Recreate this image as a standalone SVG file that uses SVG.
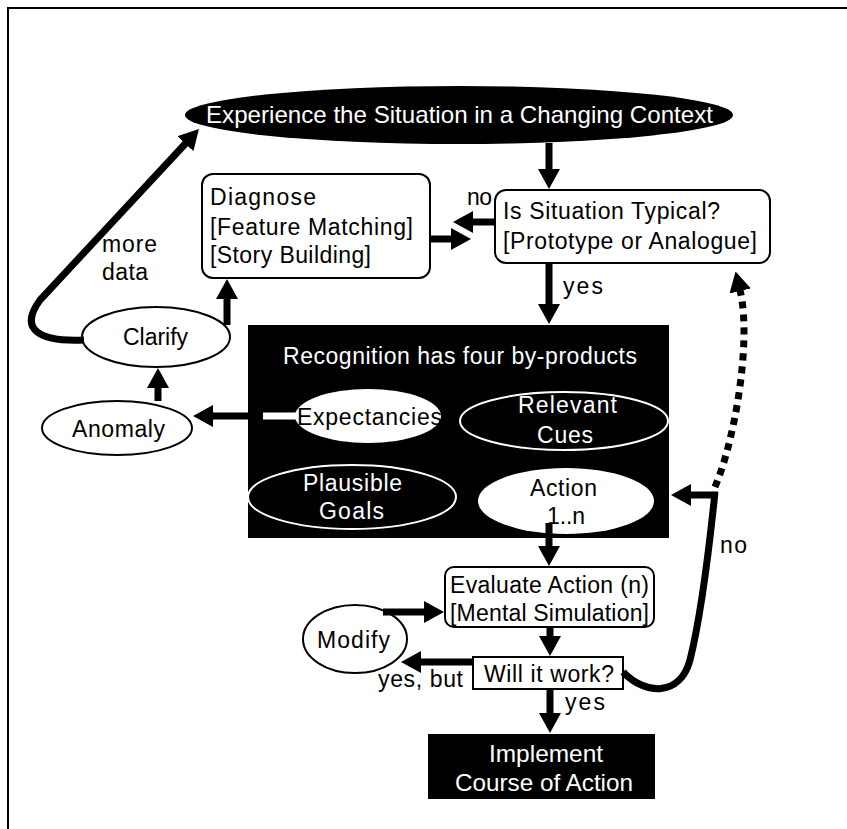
<svg xmlns="http://www.w3.org/2000/svg" width="847" height="829" viewBox="0 0 847 829">
<style>
text{font-family:"Liberation Sans",Arial,sans-serif;font-size:23px;fill:#000}
.w{fill:#fff}
.big{font-size:24px}
.box{fill:#fff;stroke:#000;stroke-width:2}
.blk{fill:#000}
.eo{fill:#fff;stroke:#000;stroke-width:2}
.ei{fill:#000;stroke:#fff;stroke-width:2}
.ef{fill:#fff;stroke:none}
.c{fill:none;stroke:#000;stroke-width:7;marker-end:url(#ah)}
.cn{fill:none;stroke:#000;stroke-width:7}
.dot{fill:none;stroke:#000;stroke-width:7;stroke-dasharray:7 6;marker-end:url(#ah)}
</style>
<defs>
<marker id="ah" viewBox="0 0 20 22" refX="1" refY="11" markerWidth="20" markerHeight="22" markerUnits="userSpaceOnUse" orient="auto"><path d="M0,0 L20,11 L0,22 z" fill="#000"/></marker>
</defs>
<rect width="847" height="829" fill="#fff"/>
<path d="M8 829 V8 H847" fill="none" stroke="#000" stroke-width="2"/>

<g id="experience">
<ellipse cx="459" cy="115" rx="274" ry="29" class="blk"/>
<text x="206" y="123" class="w big" textLength="507" lengthAdjust="spacingAndGlyphs">Experience the Situation in a Changing Context</text>
</g>

<g id="diagnose">
<rect x="202" y="174" width="228" height="104" rx="11" class="box"/>
<text x="210" y="205" textLength="106" lengthAdjust="spacing">Diagnose</text>
<text x="210" y="235" textLength="203" lengthAdjust="spacing">[Feature Matching]</text>
<text x="210" y="263" textLength="161" lengthAdjust="spacing">[Story Building]</text>
</g>

<g id="typical">
<rect x="495" y="190" width="275" height="73" rx="11" class="box"/>
<text x="503" y="219" textLength="217" lengthAdjust="spacing">Is Situation Typical?</text>
<text x="503" y="249" textLength="254" lengthAdjust="spacing">[Prototype or Analogue]</text>
</g>

<g id="recognition">
<rect x="248" y="325" width="421" height="213" class="blk"/>
<text x="283" y="364" class="w" textLength="354" lengthAdjust="spacing">Recognition has four by-products</text>
</g>

<g id="expectancies">
<ellipse cx="368" cy="416" rx="73" ry="27" class="ef"/>
<text x="297" y="425" textLength="145" lengthAdjust="spacing">Expectancies</text>
</g>

<g id="cues">
<ellipse cx="564" cy="421" rx="104" ry="29" class="ei"/>
<text x="518" y="413" class="w" textLength="99" lengthAdjust="spacing">Relevant</text>
<text x="537" y="443" class="w" textLength="56" lengthAdjust="spacing">Cues</text>
</g>

<g id="goals">
<ellipse cx="352" cy="497" rx="104" ry="32" class="ei"/>
<text x="303" y="491" class="w" textLength="99" lengthAdjust="spacing">Plausible</text>
<text x="319" y="519" class="w" textLength="65" lengthAdjust="spacing">Goals</text>
</g>

<g id="action">
<ellipse cx="566" cy="501" rx="88" ry="33" class="ef"/>
<text x="530" y="496" textLength="67" lengthAdjust="spacing">Action</text>
<text x="547" y="524" textLength="38" lengthAdjust="spacing">1..n</text>
</g>

<g id="clarify">
<ellipse cx="156" cy="337" rx="74" ry="30" class="eo"/>
<text x="123" y="345" textLength="65" lengthAdjust="spacing">Clarify</text>
</g>

<g id="anomaly">
<ellipse cx="117" cy="428" rx="75" ry="27" class="eo"/>
<text x="72" y="437" textLength="93" lengthAdjust="spacing">Anomaly</text>
</g>

<g id="evaluate">
<rect x="445" y="567" width="209" height="60" rx="9" class="box"/>
<text x="450" y="593" textLength="199" lengthAdjust="spacing">Evaluate Action (n)</text>
<text x="450" y="621" textLength="199" lengthAdjust="spacing">[Mental Simulation]</text>
</g>

<g id="modify">
<ellipse cx="355" cy="639" rx="52" ry="34" class="eo"/>
<text x="317" y="648" textLength="73" lengthAdjust="spacing">Modify</text>
</g>

<g id="willwork">
<rect x="473" y="657" width="150" height="32" class="box"/>
<text x="484" y="682" textLength="130" lengthAdjust="spacing">Will it work?</text>
</g>

<g id="implement">
<rect x="428" y="734" width="227" height="65" class="blk"/>
<text x="489" y="762" class="w big" textLength="114" lengthAdjust="spacingAndGlyphs">Implement</text>
<text x="455" y="791" class="w big" textLength="178" lengthAdjust="spacingAndGlyphs">Course of Action</text>
</g>

<g id="connectors">
<path class="c" d="M549 143 V170"/>
<path class="c" d="M495 222 H472"/>
<path class="c" d="M430 239 H452"/>
<path class="c" d="M549 263 V305"/>
<path d="M263 416 H296" stroke="#fff" stroke-width="7"/>
<path class="c" d="M248 416 H212"/>
<path class="c" d="M158 401 V387"/>
<path class="c" d="M227 325 V298"/>
<path class="c" d="M84 340 C40 342 18 330 40 300 L186 143"/>
<path class="c" d="M549 523 V547"/>
<path class="c" d="M550 627 V637"/>
<path class="c" d="M473 662 H420"/>
<path class="c" d="M383 612 H425"/>
<path class="c" d="M550 689 V714"/>
<path class="cn" d="M623 672 C645 695 680 697 690 660 C700 620 708 560 715 492"/>
<path class="c" d="M718 495 H690"/>
<path class="dot" d="M715 487 C735 440 752 340 740 290"/>
<text x="467" y="205" textLength="25" lengthAdjust="spacing">no</text>
<text x="563" y="294" textLength="40" lengthAdjust="spacing">yes</text>
<text x="102" y="252" textLength="55" lengthAdjust="spacing">more</text>
<text x="102" y="280" textLength="46" lengthAdjust="spacing">data</text>
<text x="720" y="553" textLength="27" lengthAdjust="spacing">no</text>
<text x="378" y="687" textLength="85" lengthAdjust="spacing">yes, but</text>
<text x="565" y="710" textLength="40" lengthAdjust="spacing">yes</text>
</g>
</svg>
